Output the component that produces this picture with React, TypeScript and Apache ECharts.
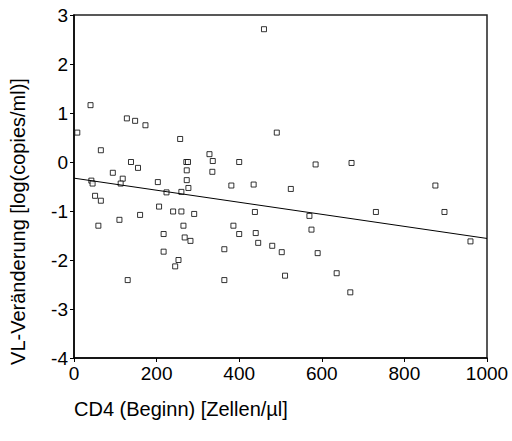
import React, { useEffect, useRef } from "react";
import * as echarts from "echarts";

const cd4: number[] = [
  8, 40, 128, 148, 173, 65, 257, 138, 155, 94, 118, 113, 42, 45, 203, 272, 276,
  273, 273, 277, 260, 224, 328, 336, 335, 381, 400, 460, 491, 585, 672, 435,
  525, 875, 51, 65, 206, 160, 110, 59, 240, 260, 291, 265, 217, 268, 282, 217,
  253, 245, 130, 364, 364, 386, 400, 438, 440, 446, 480, 503, 511, 570, 575,
  590, 636, 669, 731, 897, 960,
];
const vlChange: number[] = [
  0.6, 1.16, 0.89, 0.84, 0.75, 0.24, 0.47, 0.0, -0.12, -0.22, -0.34, -0.44,
  -0.38, -0.44, -0.41, 0.0, 0.0, -0.17, -0.37, -0.53, -0.61, -0.62, 0.16, 0.02,
  -0.2, -0.48, 0.0, 2.71, 0.6, -0.05, -0.02, -0.46, -0.55, -0.48, -0.69, -0.79,
  -0.91, -1.08, -1.18, -1.3, -1.01, -1.01, -1.06, -1.3, -1.47, -1.54, -1.61,
  -1.83, -2.0, -2.13, -2.41, -2.41, -1.78, -1.3, -1.47, -1.02, -1.45, -1.65,
  -1.71, -1.84, -2.32, -1.1, -1.38, -1.86, -2.27, -2.66, -1.02, -1.02, -1.62,
];
const fitX: number[] = [0, 1000];
const fitY: number[] = [-0.33, -1.56];

const xAxisName = "CD4 (Beginn) [Zellen/µl]";
const yAxisName = "VL-Veränderung [log(copies/ml)]";

export default function App() {
  const ref = useRef<HTMLDivElement>(null);
  useEffect(() => {
    if (!ref.current) return;
    const chart = echarts.init(ref.current, null, { renderer: "svg" });
    const font = "'Liberation Sans', Arial, sans-serif";
    chart.setOption({
      animation: false,
      backgroundColor: "#fff",
      textStyle: { fontFamily: font },
      grid: {
        left: 72.7,
        top: 15,
        right: 25,
        bottom: 83,
        show: true,
        borderColor: "#222",
        borderWidth: 1.5,
        containLabel: false,
      },
      xAxis: {
        type: "value",
        min: 0,
        max: 1000,
        interval: 200,
        name: xAxisName,
        nameLocation: "start",
        nameGap: 0,
        nameTextStyle: {
          fontFamily: font,
          fontSize: 20,
          color: "#000",
          align: "left",
          verticalAlign: "top",
          padding: [41, 0, 0, 0],
        },
        axisLine: { show: true, onZero: false, lineStyle: { color: "#000", width: 1.5 } },
        axisTick: { show: true, length: 4, lineStyle: { color: "#000" } },
        axisLabel: {
          fontFamily: font,
          fontSize: 19,
          color: "#000",
          margin: 6,
          formatter: (v: number) => String(v),
        },
        splitLine: { show: false },
      },
      yAxis: {
        type: "value",
        min: -4,
        max: 3,
        interval: 1,
        name: yAxisName,
        nameLocation: "middle",
        nameGap: 46,
        nameTextStyle: {
          fontFamily: font,
          fontSize: 20,
          color: "#000",
          padding: [0, 70, 0, 0],
        },
        axisLine: { show: true, onZero: false, lineStyle: { color: "#000", width: 1.5 } },
        axisTick: { show: true, length: 4, lineStyle: { color: "#000" } },
        axisLabel: {
          fontFamily: font,
          fontSize: 19,
          color: "#000",
          margin: 6,
          formatter: (v: number) => String(v),
        },
        splitLine: { show: false },
      },
      series: [
        {
          type: "scatter",
          data: cd4.map((x, i) => [x, vlChange[i]]),
          symbol: "rect",
          symbolSize: 5,
          itemStyle: { color: "#fff", borderColor: "#000", borderWidth: 1 },
        },
        {
          type: "line",
          data: fitX.map((x, i) => [x, fitY[i]]),
          symbol: "none",
          lineStyle: { color: "#000", width: 1 },
        },
      ],
    });
    return () => chart.dispose();
  }, []);
  return (
    <div
      ref={ref}
      style={{ position: "absolute", left: 0, top: 0, width: 512, height: 441 }}
    />
  );
}
